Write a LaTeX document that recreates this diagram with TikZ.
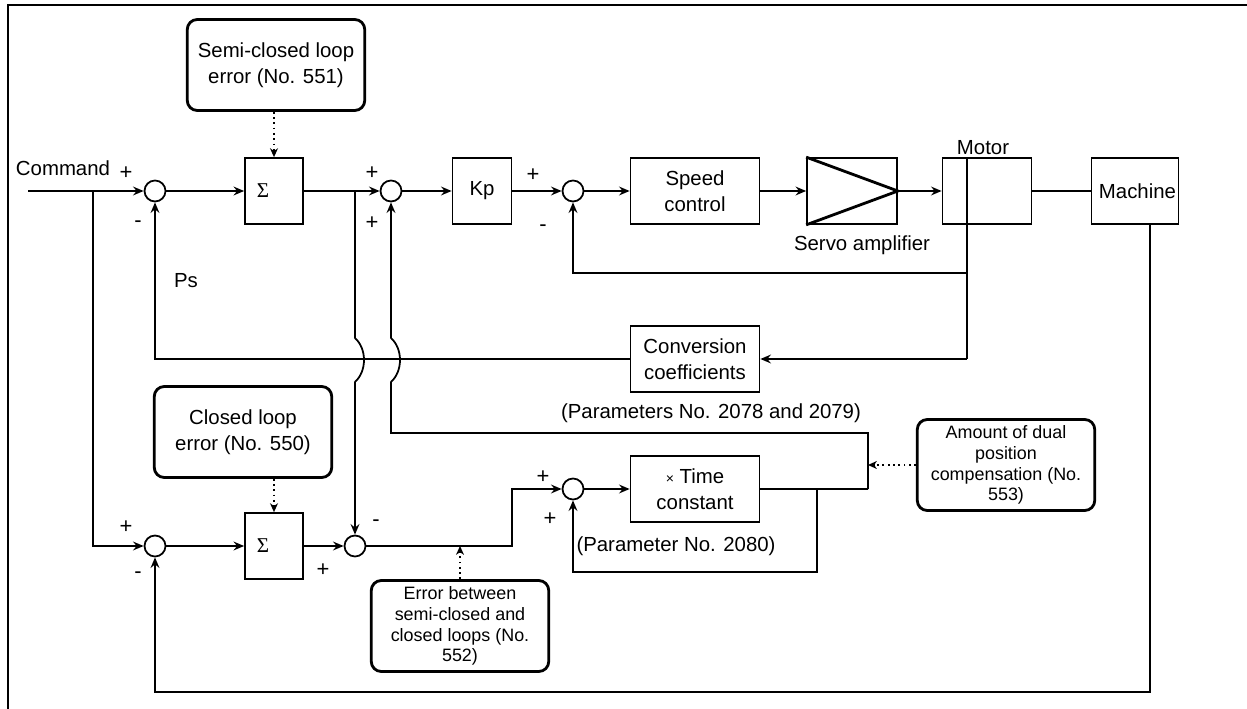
\documentclass[tikz,border=0pt]{standalone}
\usepackage{fontspec}
\setmainfont{Liberation Sans}
\newfontfamily\greekfont{Liberation Serif}
\usetikzlibrary{arrows.meta}

\tikzset{
  blk/.style={draw, line width=1pt, minimum height=1.32cm, inner sep=0pt, align=center},
  sumc/.style={draw, circle, line width=1pt, minimum size=0.42cm, inner sep=0pt},
  note/.style={draw, line width=1.6pt, rounded corners=0.2cm, minimum width=3.55cm,
    minimum height=1.82cm, inner sep=0pt, align=center},
  smallnote/.style={note, font=\fontsize{10.2pt}{11.8pt}\selectfont},
  sig/.style={line width=1pt, -{Stealth[length=6pt,width=5pt,inset=2pt]}},
  wire/.style={line width=1pt},
  info/.style={line width=1pt, dotted, -{Stealth[length=5pt,width=4.5pt,inset=1.5pt]}},
  lbl/.style={inner sep=0pt}
}

\begin{document}
\begin{tikzpicture}[x=0.02cm, y=-0.02cm, font=\fontsize{11.6pt}{14.7pt}\selectfont]
  \useasboundingbox (0,0) rectangle (1247,709);
  \draw[line width=1.2pt] (8,709) -- (8,5) -- (1247,5);

  % semi-closed (upper) loop
  \node[sumc] (c1) at (155,191) {};
  \node[blk, minimum width=1.16cm] (s1) at (274,191) {{\greekfont\large Σ}\hspace*{0.44cm}};
  \node[note] (semi) at (276,65) {Semi-closed loop\\error (No. 551)};
  \node[sumc] (c2) at (391,191) {};
  \node[blk, minimum width=1.18cm] (kp) at (482,191) {Kp};
  \node[sumc] (c3) at (573,191) {};
  \node[blk, minimum width=2.58cm] (speed) at (695,191) {Speed\\control};
  \node[blk, minimum width=1.8cm] (amp) at (852,191) {};
  \node[blk, minimum width=1.78cm] (motor) at (987,191) {};
  \node[blk, minimum width=1.74cm] (machine) at (1135,191) {\hspace*{0.1cm}Machine};
  \node[blk, minimum width=2.58cm] (conv) at (695,359) {Conversion\\coefficients};

  % closed (lower) loop
  \node[sumc] (lc1) at (155,546) {};
  \node[blk, minimum width=1.16cm] (ls) at (274,546) {{\greekfont\large Σ}\hspace*{0.44cm}};
  \node[note] (closed) at (243,432) {Closed loop\\error (No. 550)};
  \node[sumc] (lc2) at (355,546) {};
  \node[sumc] (c4) at (573,489) {};
  \node[blk, minimum width=2.58cm] (tc) at (695,489) {{\footnotesize×} Time\\constant};
  \node[smallnote] (err) at (460,626) {Error between\\semi-closed and\\closed loops (No.\\552)};
  \node[smallnote] (dual) at (1006,465) {Amount of dual\\position\\compensation (No.\\553)};

  % texts
  \node[lbl] (cmd) at (63,168) {Command};
  \node[lbl] (motortxt) at (983,148) {Motor};
  \node[lbl] (amptxt) at (862,245) {Servo amplifier};
  \node[lbl] (ps) at (186,281) {Ps};
  \node[lbl] (par1) at (711,413) {(Parameters No. 2078 and 2079)};
  \node[lbl] (par2) at (676,546) {(Parameter No. 2080)};
  \foreach \sg/\px/\py [count=\k] in {+/126/173, -/138/224, +/372/173, +/372/223,
      +/533/175, -/543/228, +/126/527, -/138/575, -/376/523, +/323/570,
      +/543/477, +/550/519}
    \node[lbl, font=\fontsize{12.5pt}{14pt}\selectfont] (sg\k) at (\px,\py) {\sg};

  % points on the lines
  \coordinate (in) at (28,191);
  \coordinate (b0) at (93,191);
  \coordinate (b1) at (355,191);
  \coordinate (mfs) at (967,273);
  \coordinate (mfb) at (967,359);
  \coordinate (pk) at (391,433);
  \coordinate (tcout) at (868,489);
  \coordinate (tcb) at (817,489);
  \coordinate (tcfb) at (817,572);
  \coordinate (jog) at (512,546);
  \coordinate (mach) at (1150,692);

  % servo amplifier symbol
  \draw[line width=1.6pt] (amp.north west) -- (amp.east) -- (amp.south west);

  % forward path
  \draw[sig] (in) -- (c1);
  \draw[sig] (c1) -- (s1);
  \draw[sig] (s1) -- (c2);
  \draw[sig] (c2) -- (kp);
  \draw[sig] (kp) -- (c3);
  \draw[sig] (c3) -- (speed);
  \draw[sig] (speed) -- (amp);
  \draw[sig] (amp) -- (motor);
  \draw[wire] (motor) -- (machine);

  % feedbacks
  \draw[wire] (motor.north -| mfs) -- (mfb);
  \draw[sig] (mfs) -| (c3);
  \draw[sig] (mfb) -- (conv);
  \draw[sig] (conv) -| (c1);
  \draw[sig] (machine.south -| mach) -- (mach) -| (lc1);

  % lower path
  \draw[sig] (b0) |- (lc1);
  \draw[sig] (lc1) -- (ls);
  \draw[sig] (ls) -- (lc2);
  \draw[sig] (b1) -- ++(0,147) .. controls +(12,11) and +(12,-11) .. ++(0,44) -- (lc2);
  \draw[sig] (lc2) -- (jog) |- (c4);
  \draw[sig] (c4) -- (tc);
  \draw[wire] (tc) -- (tcout);
  \draw[sig] (tcb) -- (tcfb) -| (c4);
  \draw[sig] (tcout) |- (pk) -- ++(0,-51) .. controls +(12,-11) and +(12,11) .. ++(0,-44) -- (c2);

  % monitored values
  \draw[info] (semi.south -| s1) -- (s1);
  \draw[info] (closed.south -| ls) -- (ls);
  \draw[info] (err) -- (err.north |- lc2);
  \draw[info] (dual) -- (dual.west -| tcout);
\end{tikzpicture}
\end{document}
